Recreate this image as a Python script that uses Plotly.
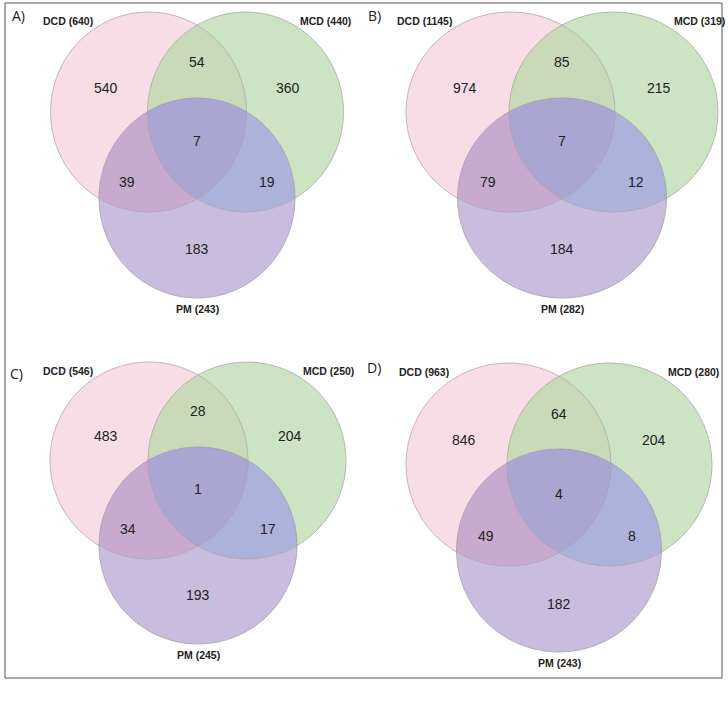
import numpy as np
import plotly.graph_objects as go

# ---------------- data ----------------
panel_titles = ["A)", "B)", "C)", "D)"]
set_names = ["DCD", "MCD", "PM"]
set_totals = [[640, 440, 243], [1145, 319, 282], [546, 250, 245], [963, 280, 243]]
# region order: DCD only, DCD&MCD, MCD only, all three, DCD&PM, MCD&PM, PM only
region_counts = [
    [540, 54, 360, 7, 39, 19, 183],
    [974, 85, 215, 7, 79, 12, 184],
    [483, 28, 204, 1, 34, 17, 193],
    [846, 64, 204, 4, 49, 8, 182],
]
region_members = [(1, 0, 0), (1, 1, 0), (0, 1, 0), (1, 1, 1), (1, 0, 1), (0, 1, 1), (0, 0, 1)]
region_colors = ["#F9DDE6", "#CADAB9", "#CDE4C4", "#AAA6D1", "#C8AAD0", "#ACB2DA", "#C8BDDF"]

# ---------------- layout geometry (pixel space) ----------------
# cx: centre x of PM circle; cy: centre y of DCD/MCD circles
panels = [
    dict(cx=197, cy=112, dx=48.5, dy=86, rx=98, ry=100, tx=18, ty=15),
    dict(cx=562, cy=112, dx=51.5, dy=86, rx=104.5, ry=100, tx=374, ty=15),
    dict(cx=198, cy=460.5, dx=49, dy=85, rx=99, ry=98.5, tx=16, ty=373),
    dict(cx=559, cy=464.5, dx=50.5, dy=86, rx=102.5, ry=101.5, tx=374, ty=367),
]
# label offsets as fraction of radii, relative to (cx, cy)
label_frac = [(-0.93, -0.245), (0, -0.5), (0.93, -0.245), (0, 0.29), (-0.71, 0.70), (0.71, 0.70), (0, 1.37)]

W, H = 728, 712
fig = go.Figure()


def ell(c, n=2880):
    t = np.linspace(0, 2 * np.pi, n, endpoint=False)
    return c[0] + c[2] * np.cos(t), c[1] + c[3] * np.sin(t)


def inside(x, y, c):
    return ((x - c[0]) / c[2]) ** 2 + ((y - c[1]) / c[3]) ** 2 < 1


shapes = []
annotations = []
for p, title, totals, counts in zip(panels, panel_titles, set_totals, region_counts):
    circles = [
        (p["cx"] - p["dx"], p["cy"], p["rx"], p["ry"]),
        (p["cx"] + p["dx"], p["cy"], p["rx"], p["ry"]),
        (p["cx"], p["cy"] + p["dy"], p["rx"], p["ry"]),
    ]
    for k, (mem, col, cnt) in enumerate(zip(region_members, region_colors, counts)):
        fx, fy = label_frac[k]
        lx, ly = p["cx"] + fx * p["rx"], p["cy"] + fy * p["ry"]
        xs, ys = [], []
        for i, c in enumerate(circles):
            x, y = ell(c)
            keep = np.ones_like(x, dtype=bool)
            for j, c2 in enumerate(circles):
                if j == i:
                    continue
                keep &= inside(x, y, c2) == bool(mem[j])
            xs.append(x[keep])
            ys.append(y[keep])
        xs = np.concatenate(xs)
        ys = np.concatenate(ys)
        order = np.argsort(np.arctan2(ys - ly, xs - lx))
        xs = np.append(xs[order], xs[order][0])
        ys = np.append(ys[order], ys[order][0])
        fig.add_trace(go.Scatter(x=xs, y=ys, mode="lines", fill="toself", fillcolor=col,
                                 line=dict(width=0.6, color=col), hoverinfo="skip", showlegend=False))
        annotations.append(dict(x=lx, y=ly, text=str(cnt), showarrow=False,
                                font=dict(family="Liberation Sans, Arial", size=14, color="#222222")))
    for c in circles:
        shapes.append(dict(type="circle", xref="x", yref="y", x0=c[0] - c[2], x1=c[0] + c[2],
                           y0=c[1] - c[3], y1=c[1] + c[3], line=dict(color="rgba(160,150,155,0.75)", width=0.8)))
    # set labels
    pos = [
        (circles[0][0] - 0.82 * p["rx"], p["cy"] - 0.91 * p["ry"]),
        (circles[1][0] + 0.82 * p["rx"], p["cy"] - 0.91 * p["ry"]),
        (p["cx"], circles[2][1] + 1.11 * p["ry"]),
    ]
    for (x, y), nm, tot in zip(pos, set_names, totals):
        annotations.append(dict(x=x, y=y, text=f"<b>{nm} ({tot})</b>", showarrow=False,
                                font=dict(family="Liberation Sans, Arial", size=10.5, color="#222222")))
    annotations.append(dict(x=p["tx"], y=p["ty"], text=title, showarrow=False,
                            font=dict(family="Open Sans, Liberation Sans", size=14, color="#222222")))

shapes.append(dict(type="rect", xref="x", yref="y", x0=5, x1=722, y0=3, y1=678,
                   line=dict(color="#555555", width=1)))

fig.update_layout(
    width=W, height=H, margin=dict(l=0, r=0, t=0, b=0),
    paper_bgcolor="white", plot_bgcolor="white",
    xaxis=dict(range=[0, W], visible=False, fixedrange=True),
    yaxis=dict(range=[H, 0], visible=False, fixedrange=True),
    shapes=shapes, annotations=annotations, showlegend=False,
)
fig.write_html("out.html", config={"displayModeBar": False},
               post_script="document.body.style.margin='0';document.body.style.overflow='hidden';")
